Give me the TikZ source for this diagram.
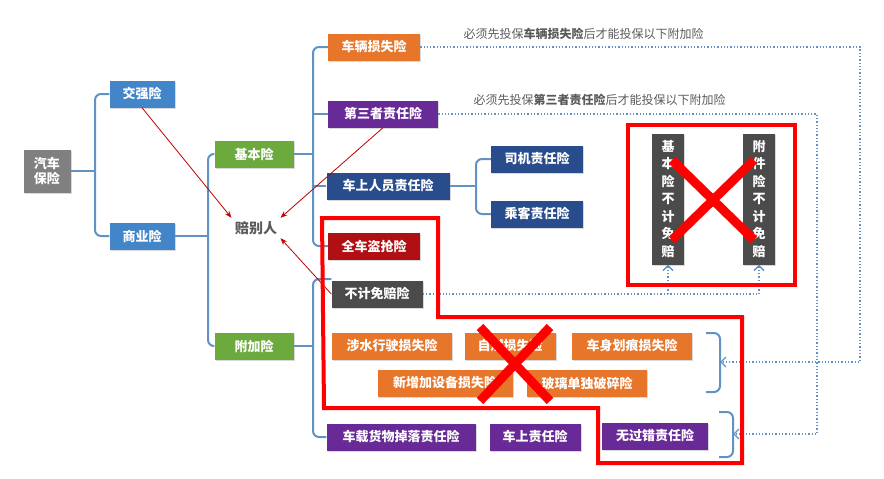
\documentclass[tikz,border=0pt]{standalone}
\usepackage{fontspec}
\newfontfamily\cjk{Noto Sans CJK SC}
\usetikzlibrary{arrows.meta,shadows}
\definecolor{cgray}{RGB}{128,128,128}
\definecolor{cblue}{RGB}{66,133,200}
\definecolor{cgreen}{RGB}{108,170,62}
\definecolor{corange}{RGB}{232,118,42}
\definecolor{cpurple}{RGB}{104,42,150}
\definecolor{cdblue}{RGB}{40,76,140}
\definecolor{cdred}{RGB}{176,16,20}
\definecolor{cdgray}{RGB}{75,75,75}
\definecolor{cline}{RGB}{96,146,196}
\definecolor{ctext}{RGB}{90,90,90}
\begin{document}
\begin{tikzpicture}[x=1pt,y=-1pt,
  box/.style={font=\cjk\bfseries\fontsize{13}{15}\selectfont, text=white, inner sep=0pt, minimum height=27pt, drop shadow={opacity=0.3,shadow xshift=1pt,shadow yshift=-1.5pt}},
  br/.style={draw=cline, line width=2pt, rounded corners=6pt},
  dl/.style={draw=cline, line width=1.3pt, dotted},
  ra/.style={draw=red!75!black, line width=0.8pt, -{Stealth[length=7pt]}},
  rx/.style={draw=red, line width=9pt},
  rr/.style={draw=red, line width=4pt}]
\useasboundingbox (0,0) rectangle (884,479);
\node[box, fill=cgray, minimum width=47pt, minimum height=43pt, align=center] (qc) at (47,171) {汽车\\保险};
\node[box, fill=cblue, minimum width=65pt] (jq) at (142,94) {交强险};
\node[box, fill=cblue, minimum width=65pt] (sy) at (142,236) {商业险};
\node[box, fill=cgreen, minimum width=79pt] (jb) at (254,154) {基本险};
\node[box, fill=cgreen, minimum width=79pt] (fj) at (254,346) {附加险};
\node[font=\cjk\bfseries\fontsize{14}{16}\selectfont, text=ctext] (pbr) at (256,228) {赔别人};
\node[box, fill=corange, minimum width=92pt] (cl) at (374,47) {车辆损失险};
\node[box, fill=cpurple, minimum width=110pt] (ds) at (383,114) {第三者责任险};
\node[box, fill=cdblue, minimum width=123pt] (cs) at (388,186) {车上人员责任险};
\node[box, fill=cdred, minimum width=92pt] (dq) at (374,246) {全车盗抢险};
\node[box, fill=cdgray, minimum width=91pt] (bj) at (377,294) {不计免赔险};
\node[box, fill=corange, minimum width=120pt] (ss) at (392,346) {涉水行驶损失险};
\node[box, fill=corange, minimum width=91pt] (zr) at (510,346) {自燃损失险};
\node[box, fill=corange, minimum width=120pt] (hh) at (632,346) {车身划痕损失险};
\node[box, fill=corange, minimum width=135pt] (xz) at (445,383) {新增加设备损失险};
\node[box, fill=corange, minimum width=120pt] (bl) at (587,383) {玻璃单独破碎险};
\node[box, fill=cpurple, minimum width=149pt] (cz) at (401,437) {车载货物掉落责任险};
\node[box, fill=cpurple, minimum width=91pt] (sz) at (535,437) {车上责任险};
\node[box, fill=cpurple, minimum width=106pt] (wg) at (655,436) {无过错责任险};
\node[box, fill=cdblue, minimum width=92pt] (sj) at (537,159) {司机责任险};
\node[box, fill=cdblue, minimum width=92pt] (ck) at (537,214) {乘客责任险};
\node[box, fill=cdgray, minimum width=32pt, minimum height=131pt, align=center, font=\cjk\bfseries\fontsize{13}{17.5}\selectfont] (v1) at (668,199) {基\\本\\险\\不\\计\\免\\赔};
\node[box, fill=cdgray, minimum width=32pt, minimum height=131pt, align=center, font=\cjk\bfseries\fontsize{13}{17.5}\selectfont] (v2) at (759,199) {附\\件\\险\\不\\计\\免\\赔};
\node[font=\cjk\fontsize{12}{14}\selectfont, text=ctext, anchor=west] (t1) at (460,34) {必须先投保{\bfseries 车辆损失险}后才能投保以下附加险};
\node[font=\cjk\fontsize{12}{14}\selectfont, text=ctext, anchor=west] (t2) at (470,100) {必须先投保{\bfseries 第三者责任险}后才能投保以下附加险};
% trees
\draw[br] (qc.east) -- (95,171);
\draw[br] (jq.west) -| (95,171) |- (sy.west);
\draw[br] (sy.east) -- (208,236);
\draw[br] (jb.west) -| (208,236) |- (fj.west);
\draw[br] (jb.east) -- (313,154);
\draw[br] (cl.west) -| (313,154) |- (dq.west);
\draw[br] (ds.west) -- (313,114);
\draw[br] (cs.west) -- (313,186);
\draw[br] (fj.east) -- (313,346);
\draw[br] (bj.west) ++(0,-15) coordinate (b1) (b1) -| (313,346) |- (cz.west);
\draw[br] (cs.east) -- (476,186);
\draw[br] (sj.west) -| (476,186) |- (ck.west);
\coordinate (k1) at (720,362);
\draw[br] (706,333) -| (k1) |- (706,392);
\coordinate (k2) at (733,434);
\draw[br] (719,412) -| (k2) |- (719,457);
% dotted
\coordinate (d1) at (860,47);
\coordinate (d2) at (817,114);
\coordinate (d3) at (759,294);
\draw[dl, -{Straight Barb[length=5pt]}] (cl.east) -- (d1) |- (k1);
\draw[dl, -{Straight Barb[length=5pt]}] (ds.east) -- (d2) |- (k2);
\draw[dl] (bj.east) -- (d3);
\draw[dl, -{Straight Barb[length=5pt]}] (v1.south |- d3) -- (v1.south);
\draw[dl, -{Straight Barb[length=5pt]}] (d3) -- (v2.south);
% red arrows
\draw[ra] (jq.south) -- (pbr.north west);
\draw[ra] (ds.south) -- (pbr.north east);
\draw[ra] (bj.west) -- (pbr.south east);
% red marks
\draw[rr] (628,125) rectangle (795,285);
\draw[rr] (322,218) -- (438,218) -- (438,317) -- (742,317) -- (742,463) -- (598,463) -- (598,408) -- (324,408) -- cycle;
\draw[rx] (480,327) -- (550,401) (550,327) -- (480,401);
\draw[rx] (672,160) -- (754,240) (754,160) -- (672,240);
\end{tikzpicture}
\end{document}
